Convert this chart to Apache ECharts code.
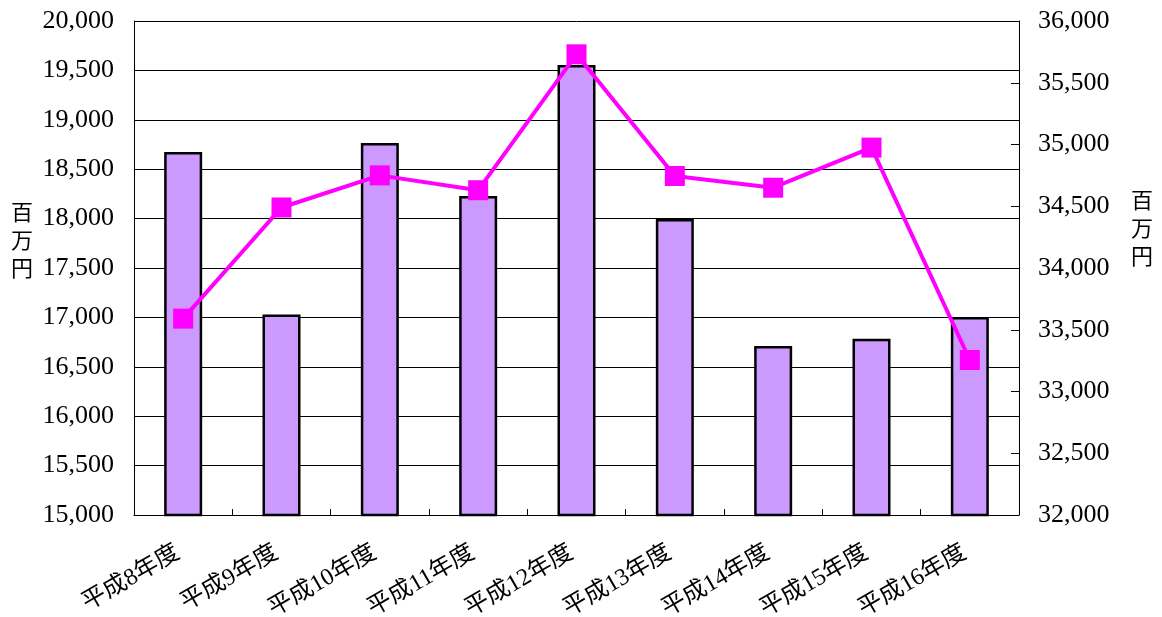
<!DOCTYPE html>
<html>
<head>
<meta charset="utf-8">
<script src="https://cdn.jsdelivr.net/npm/echarts@6/dist/echarts.min.js"></script>
<style>
html,body{margin:0;padding:0;background:#fff;}
#chart{width:1162px;height:617px;}
</style>
</head>
<body>
<div id="chart"></div>
<script>
const categories = ['平成8年度','平成9年度','平成10年度','平成11年度','平成12年度','平成13年度','平成14年度','平成15年度','平成16年度'];
const barValues = [18675, 17030, 18765, 18230, 19555, 17995, 16710, 16785, 17005];
const lineValues = [33590, 34490, 34750, 34630, 35730, 34745, 34650, 34975, 33255];
const unitLabel = '百\n万\n円';

const numFont = '"Liberation Serif", "Noto Sans CJK JP", serif';
const fmt = v => v.toLocaleString('en-US');

const chart = echarts.init(document.getElementById('chart'));
chart.setOption({
  animation: false,
  backgroundColor: '#fff',
  grid: {left: 134, right: 143, top: 21, bottom: 102, containLabel: false, outerBoundsMode: 'none'},
  xAxis: {
    type: 'category',
    data: categories,
    boundaryGap: true,
    axisLine: {show: true, lineStyle: {color: '#000', width: 1}},
    axisTick: {show: true, inside: true, length: 6, alignWithLabel: false, lineStyle: {color: '#000'}},
    axisLabel: {rotate: 30, margin: 33, padding: [0, 6, 0, 0], fontSize: 24, color: '#000', fontFamily: numFont, interval: 0},
    splitLine: {show: false}
  },
  yAxis: [{
    type: 'value', min: 15000, max: 20000, interval: 500,
    axisLine: {show: true, lineStyle: {color: '#000', width: 1}},
    axisTick: {show: true, inside: true, length: 8, lineStyle: {color: '#000'}},
    axisLabel: {formatter: fmt, fontSize: 26, color: '#000', fontFamily: numFont, margin: 20},
    splitLine: {show: true, lineStyle: {color: '#000', width: 1}}
  }, {
    type: 'value', min: 32000, max: 36000, interval: 500,
    position: 'right',
    axisLine: {show: true, lineStyle: {color: '#000', width: 1}},
    axisTick: {show: true, inside: true, length: 8, lineStyle: {color: '#000'}},
    axisLabel: {formatter: fmt, fontSize: 26, color: '#000', fontFamily: numFont, margin: 19},
    splitLine: {show: false}
  }],
  graphic: [
    {type: 'text', left: 11, top: 198, style: {text: unitLabel, font: '22px "Noto Sans CJK JP"', fill: '#000', lineHeight: 28}},
    {type: 'text', left: 1131, top: 186, style: {text: unitLabel, font: '22px "Noto Sans CJK JP"', fill: '#000', lineHeight: 28}}
  ],
  series: [{
    type: 'bar',
    data: barValues,
    yAxisIndex: 0,
    barWidth: 38,
    itemStyle: {color: '#CC99FF', borderColor: '#000', borderWidth: 2.5},
    z: 2
  }, {
    type: 'line',
    data: lineValues,
    yAxisIndex: 1,
    symbol: 'rect',
    symbolSize: 20,
    lineStyle: {color: '#FF00FF', width: 4},
    itemStyle: {color: '#FF00FF'},
    z: 3
  }]
});
</script>
</body>
</html>
